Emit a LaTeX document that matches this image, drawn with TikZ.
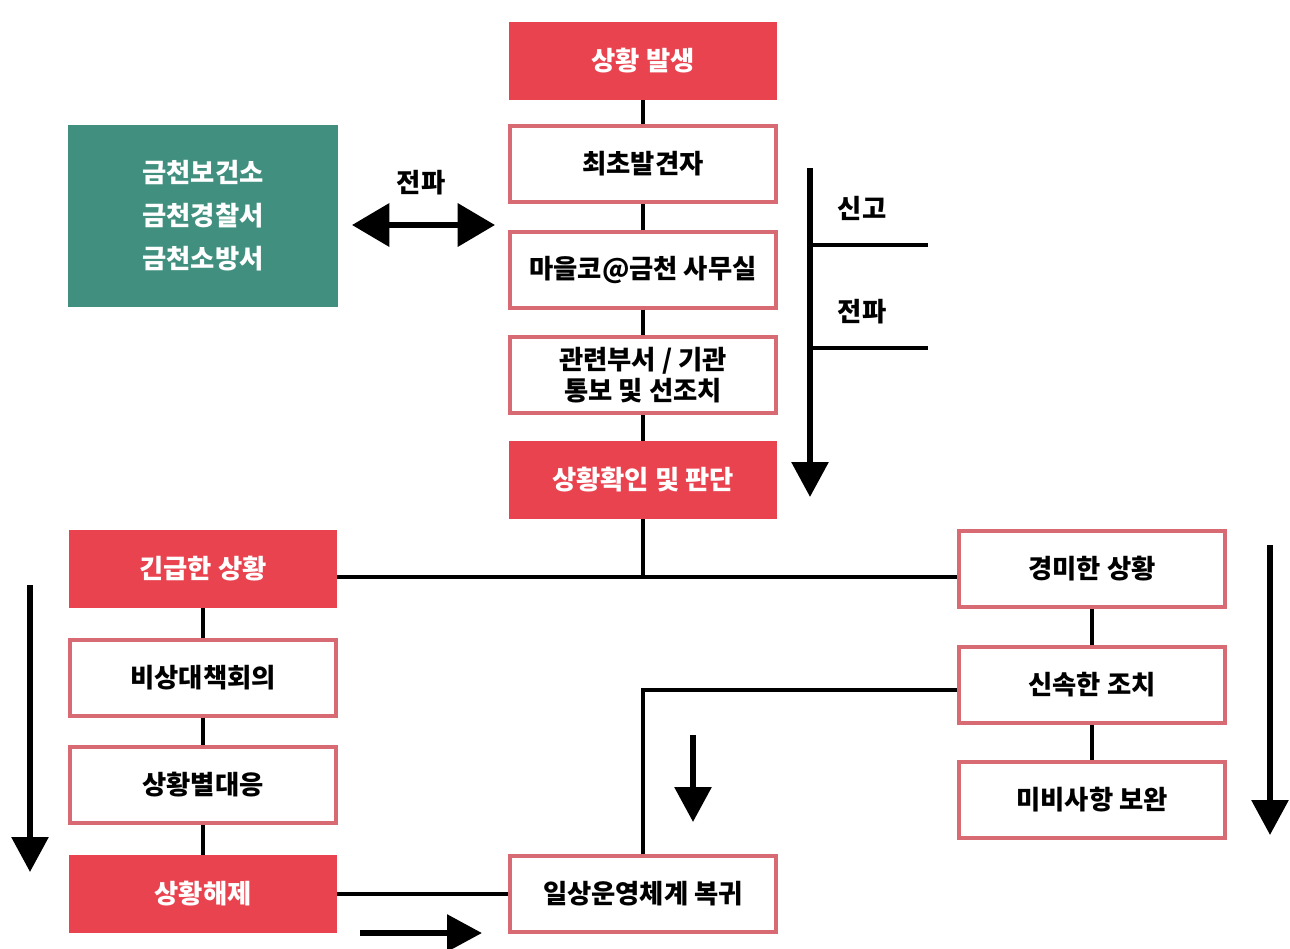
\documentclass[tikz,border=0pt]{standalone}
\usepackage{fontspec}
\setmainfont{Noto Sans CJK KR}
\usetikzlibrary{arrows.meta}
\definecolor{alert}{HTML}{E8434F}
\definecolor{edge}{HTML}{D86A74}
\definecolor{agency}{HTML}{41907F}
\tikzset{
    box/.style = {minimum width = 5.32cm, minimum height = 1.52cm, inner sep = 0pt,
        align = center, font = \bfseries\fontsize{15}{17.6}\selectfont},
    redbox/.style = {box, fill = alert, draw = alert, line width = 1.5pt, text = white},
    whitebox/.style = {box, fill = white, draw = edge, line width = 2.2pt, text = black},
    link/.style = {line width = 2.4pt},
    bigarrow/.style = {line width = 3.4pt, -{Triangle[length = 0.7cm, width = 0.72cm]}},
    tag/.style = {font = \bfseries\fontsize{15}{17}\selectfont}
}
\begin{document}
\begin{tikzpicture}[x = 0.02cm, y = -0.02cm]
    \useasboundingbox (0, 0) rectangle (1290, 948);
    % Middle column
    \node [redbox]   (occur)  at (643, 61)  {상황 발생};
    \node [whitebox] (finder) at (643, 164) {최초발견자};
    \node [whitebox] (office) at (643, 270) {마을코@금천 사무실};
    \node [whitebox] (notice) at (643, 375) {관련부서 / 기관\\통보 및 선조치};
    \node [redbox]   (judge)  at (643, 480) {상황확인 및 판단};
    \node [whitebox] (restore) at (643, 894) {일상운영체계 복귀};
    % Outside agencies
    \node [box, fill = agency, text = white, minimum width = 5.4cm, minimum height = 3.66cm,
        font = \bfseries\fontsize{15}{24.5}\selectfont]
        (agency) at (203, 216) {금천보건소\\금천경찰서\\금천소방서};
    % Left column
    \node [redbox]   (urgent)  at (203, 569) {긴급한 상황};
    \node [whitebox] (meeting) at (203, 678) {비상대책회의};
    \node [whitebox] (respond) at (203, 785) {상황별대응};
    \node [redbox]   (release) at (203, 894) {상황해제};
    % Right column
    \node [whitebox] (minor) at (1092, 569) {경미한 상황};
    \node [whitebox] (quick) at (1092, 685) {신속한 조치};
    \node [whitebox] (fix)   at (1092, 800) {미비사항 보완};
    % Connectors
    \foreach \a/\b in {occur/finder, finder/office, office/notice, notice/judge,
        urgent/meeting, meeting/respond, respond/release, minor/quick, quick/fix} {
        \draw [link] (\a.south) -- (\b.north);
    }
    \coordinate (hub) at (643, 577);
    \draw [link] (judge.south) -- (hub);
    \draw [link] (urgent.east |- hub) -- (minor.west |- hub);
    \draw [link] (release.east) -- (restore.west);
    \draw [link] (quick.west) ++(0, 5) -| (restore.north);
    % Call between agencies and office
    \coordinate (callL) at (352, 225);
    \coordinate (callR) at (495, 225);
    \draw [line width = 3.4pt, {Triangle[length = 0.75cm, width = 0.85cm]}-{Triangle[length = 0.75cm, width = 0.85cm]}]
        (callL) -- (callR);
    \node [tag] (callT) at (421, 183) {전파};
    % Report line
    \coordinate (repTop) at (810, 168);
    \coordinate (repEnd) at (810, 497);
    \draw [bigarrow] (repTop) -- (repEnd);
    \coordinate (repA) at (928, 245);
    \coordinate (repB) at (928, 348);
    \draw [link] (repTop |- repA) -- (repA);
    \draw [link] (repTop |- repB) -- (repB);
    \node [tag] (repAT) at (862, 208) {신고};
    \node [tag] (repBT) at (862, 312) {전파};
    % Flow arrows
    \coordinate (leftTop) at (30, 585);
    \coordinate (leftEnd) at (30, 872);
    \draw [bigarrow] (leftTop) -- (leftEnd);
    \coordinate (rightTop) at (1270, 545);
    \coordinate (rightEnd) at (1270, 835);
    \draw [bigarrow] (rightTop) -- (rightEnd);
    \coordinate (backTop) at (693, 735);
    \coordinate (backEnd) at (693, 822);
    \draw [bigarrow] (backTop) -- (backEnd);
    \coordinate (goL) at (360, 933);
    \coordinate (goR) at (482, 933);
    \draw [bigarrow] (goL) -- (goR);
\end{tikzpicture}
\end{document}
